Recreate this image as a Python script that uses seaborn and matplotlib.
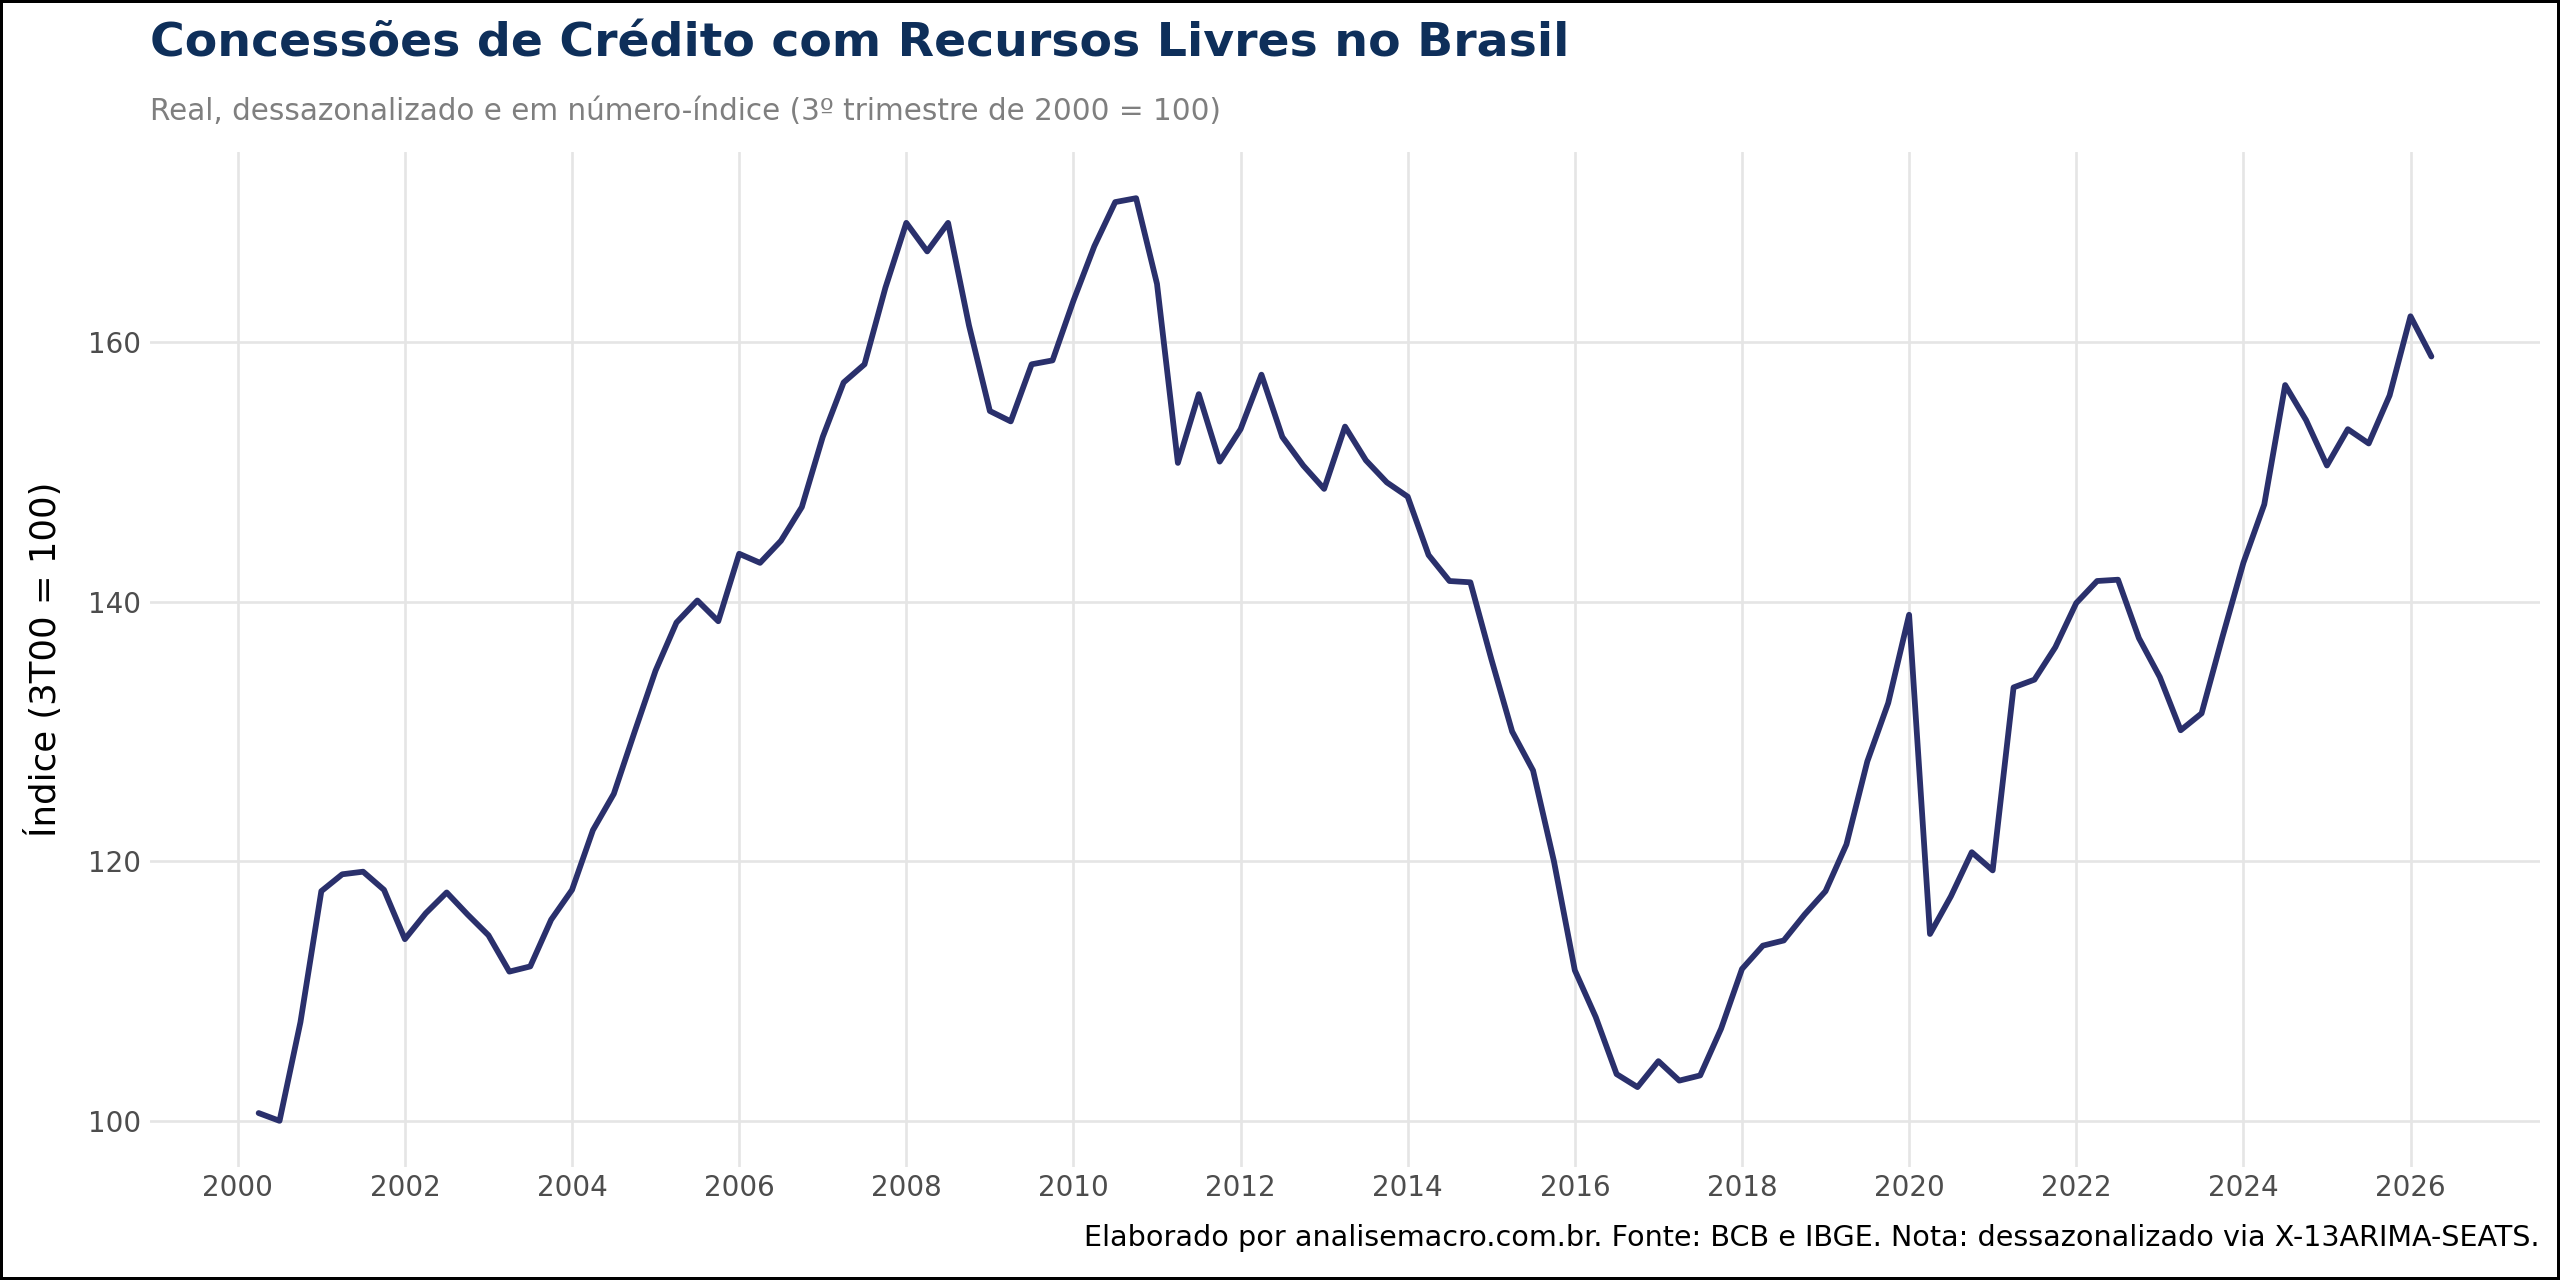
import matplotlib
matplotlib.use("Agg")
import matplotlib.pyplot as plt
import pandas as pd
import seaborn as sns

# Dados: trimestres de 2T2000 a 2T2026 (índice, 3T00 = 100)
QUARTER_START = "2000Q2"
QUARTER_END = "2026Q2"
INDEX_VALUES = [
    100.6, 100.0, 107.6,
    117.7, 119.0, 119.2, 117.8,
    114.0, 116.0, 117.6, 115.9,
    114.3, 111.5, 111.9, 115.5,
    117.8, 122.4, 125.2, 130.0,
    134.7, 138.4, 140.1, 138.5,
    143.7, 143.0, 144.7, 147.3,
    152.7, 156.9, 158.3, 164.2,
    169.2, 167.0, 169.2, 161.3,
    154.7, 153.9, 158.3, 158.6,
    163.2, 167.4, 170.8, 171.1,
    164.5, 150.7, 156.0, 150.8,
    153.3, 157.5, 152.7, 150.5,
    148.7, 153.5, 150.9, 149.2,
    148.1, 143.6, 141.6, 141.5,
    135.6, 130.0, 127.0, 120.0,
    111.6, 108.0, 103.6, 102.6,
    104.6, 103.1, 103.5, 107.1,
    111.7, 113.5, 113.9, 115.9,
    117.7, 121.3, 127.7, 132.2,
    139.0, 114.4, 117.3, 120.7,
    119.3, 133.4, 134.0, 136.5,
    139.9, 141.6, 141.7, 137.2,
    134.2, 130.1, 131.4, 137.3,
    143.0, 147.5, 156.7, 154.0,
    150.5, 153.3, 152.2, 155.9,
    162.0, 158.9,
]
X_TICKS = list(range(2000, 2027, 2))
Y_TICKS = [100, 120, 140, 160]

TITLE = "Concessões de Crédito com Recursos Livres no Brasil"
SUBTITLE = "Real, dessazonalizado e em número-índice (3º trimestre de 2000 = 100)"
CAPTION = ("Elaborado por analisemacro.com.br. Fonte: BCB e IBGE. "
           "Nota: dessazonalizado via X-13ARIMA-SEATS.")
Y_LABEL = "Índice (3T00 = 100)"

LINE_COLOR = "#2a306c"
TITLE_COLOR = "#0e2f5a"


def main():
    quarters = pd.period_range(QUARTER_START, QUARTER_END, freq="Q")
    # posição decimal do início de cada trimestre
    df = pd.DataFrame({
        "ano": quarters.year + (quarters.quarter - 1) / 4,
        "indice": INDEX_VALUES,
    })

    sns.set_theme(style="whitegrid")
    plt.rcParams["font.family"] = ["DejaVu Sans"]

    fig = plt.figure(figsize=(16, 8), dpi=160, edgecolor="black", linewidth=2)
    ax = fig.add_axes([0.0586, 0.0883, 0.9336, 0.7929])

    sns.lineplot(data=df, x="ano", y="indice", ax=ax, color=LINE_COLOR, linewidth=2.6)

    # expansão de 5% como no ggplot
    xr = df["ano"].max() - df["ano"].min()
    ax.set_xlim(df["ano"].min() - 0.05 * xr, df["ano"].max() + 0.05 * xr)
    yr = df["indice"].max() - df["indice"].min()
    ax.set_ylim(df["indice"].min() - 0.05 * yr, df["indice"].max() + 0.05 * yr)

    ax.set_xticks(X_TICKS)
    ax.set_xticklabels([str(t) for t in X_TICKS])
    ax.set_yticks(Y_TICKS)
    ax.grid(True, color="#e5e5e5", linewidth=1.2)
    ax.tick_params(axis="both", length=0, labelsize=12.5, labelcolor="#4d4d4d")
    ax.tick_params(axis="x", pad=3)
    ax.tick_params(axis="y", pad=4)
    sns.despine(ax=ax, left=True, bottom=True)

    ax.set_xlabel("")
    ax.set_ylabel("")
    fig.text(0.0172, 0.0883 + 0.7929 / 2, Y_LABEL, fontsize=16, color="black",
             rotation=90, ha="center", va="center")

    fig.text(0.0586, 0.9656, TITLE, fontsize=21.3, fontweight="bold",
             color=TITLE_COLOR, ha="left", va="center")
    fig.text(0.0586, 0.913, SUBTITLE, fontsize=13.3, color="#7f7f7f",
             ha="left", va="center")
    fig.text(0.992, 0.033, CAPTION, fontsize=12.9, color="black",
             ha="right", va="center")

    fig.savefig("out.png", dpi=160)
    plt.close(fig)


if __name__ == "__main__":
    main()
